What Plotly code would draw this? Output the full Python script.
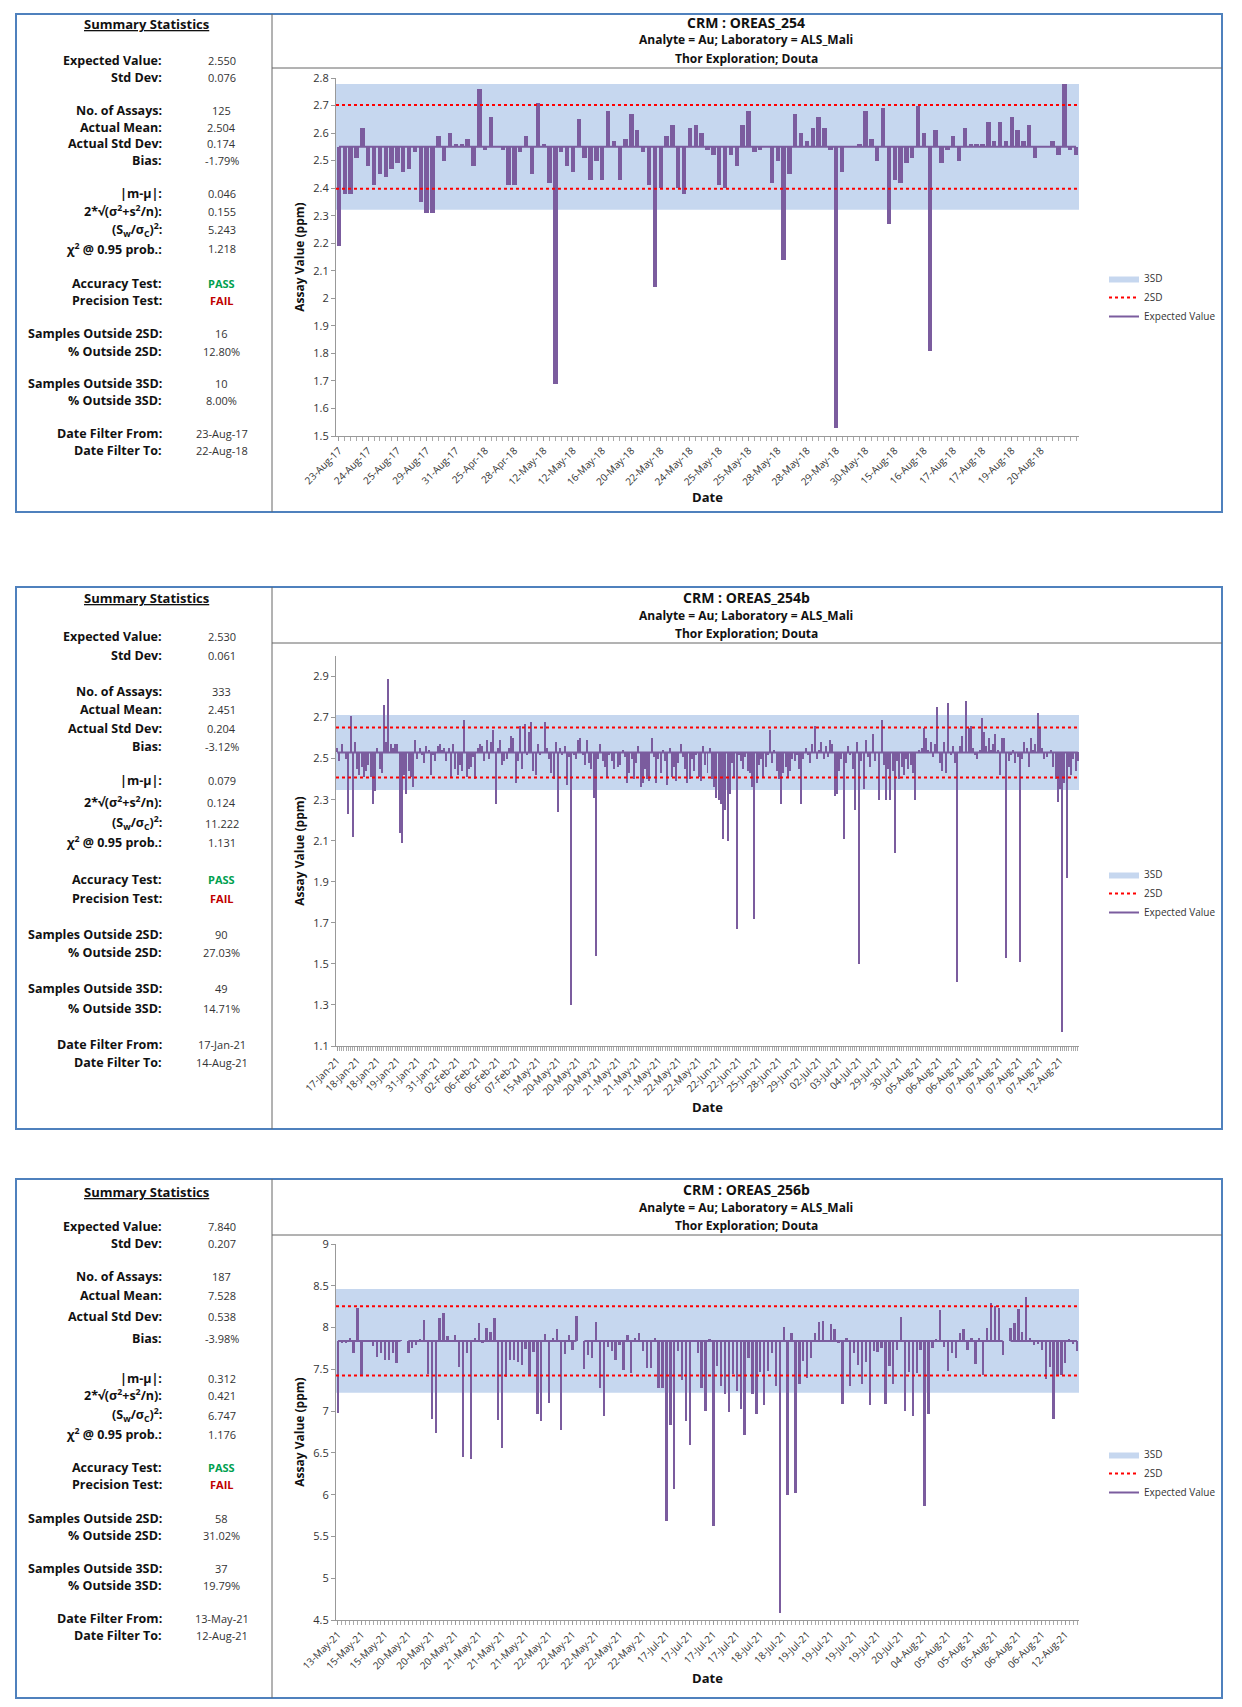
import plotly.graph_objects as go

W, H = 1242, 1707
OFF = 8  # page body margin
def X(px): return (px - OFF) / W
def Y(py): return 1 - (py - OFF) / H

# ---------------- data ----------------
p1_expected, p1_sd = 2.550, 0.076
p1_values = [2.19, 2.38, 2.38, 2.51, 2.62, 2.48, 2.41, 2.45, 2.44, 2.47, 2.49, 2.46, 2.47, 2.53, 2.35,
             2.31, 2.31, 2.59, 2.50, 2.60, 2.56, 2.56, 2.58, 2.48, 2.76, 2.54, 2.66, 2.55, 2.54, 2.41,
             2.41, 2.53, 2.59, 2.45, 2.71, 2.56, 2.42, 1.69, 2.53, 2.48, 2.46, 2.65, 2.51, 2.43, 2.50,
             2.43, 2.68, 2.57, 2.43, 2.58, 2.67, 2.61, 2.53, 2.41, 2.04, 2.40, 2.59, 2.63, 2.40, 2.38,
             2.62, 2.63, 2.60, 2.54, 2.52, 2.41, 2.40, 2.52, 2.48, 2.63, 2.68, 2.53, 2.54, 2.55, 2.42,
             2.50, 2.14, 2.45, 2.67, 2.60, 2.57, 2.62, 2.66, 2.62, 2.54, 1.53, 2.46, 2.55, 2.55, 2.56,
             2.68, 2.58, 2.50, 2.69, 2.27, 2.43, 2.42, 2.49, 2.51, 2.70, 2.60, 1.81, 2.61, 2.49, 2.54,
             2.59, 2.50, 2.62, 2.56, 2.56, 2.56, 2.64, 2.57, 2.64, 2.57, 2.66, 2.61, 2.57, 2.63, 2.51,
             2.55, 2.55, 2.57, 2.52, 2.78, 2.54, 2.52]
p1_labels = ["23-Aug-17", "24-Aug-17", "25-Aug-17", "29-Aug-17", "31-Aug-17", "25-Apr-18", "28-Apr-18",
             "12-May-18", "12-May-18", "16-May-18", "20-May-18", "22-May-18", "24-May-18", "25-May-18",
             "25-May-18", "28-May-18", "28-May-18", "29-May-18", "30-May-18", "15-Aug-18", "16-Aug-18",
             "17-Aug-18", "17-Aug-18", "19-Aug-18", "20-Aug-18"]

p2_expected, p2_sd = 2.530, 0.061
p2_values = [2.55, 2.49, 2.57, 2.53, 2.50, 2.23, 2.71, 2.12, 2.58, 2.45,
             2.42, 2.46, 2.41, 2.44, 2.47, 2.41, 2.28, 2.34, 2.55, 2.45,
             2.43, 2.76, 2.58, 2.89, 2.57, 2.55, 2.57, 2.57, 2.14, 2.09,
             2.42, 2.33, 2.44, 2.41, 2.36, 2.59, 2.50, 2.55, 2.52, 2.48,
             2.56, 2.54, 2.42, 2.52, 2.49, 2.56, 2.57, 2.54, 2.55, 2.49,
             2.55, 2.41, 2.57, 2.45, 2.42, 2.47, 2.44, 2.69, 2.41, 2.45,
             2.46, 2.51, 2.40, 2.55, 2.57, 2.56, 2.49, 2.59, 2.50, 2.58,
             2.64, 2.28, 2.55, 2.59, 2.47, 2.49, 2.50, 2.55, 2.61, 2.60,
             2.38, 2.49, 2.66, 2.45, 2.67, 2.52, 2.63, 2.68, 2.44, 2.42,
             2.57, 2.52, 2.53, 2.68, 2.55, 2.50, 2.43, 2.40, 2.58, 2.24,
             2.55, 2.52, 2.56, 2.37, 2.51, 1.30, 2.52, 2.50, 2.59, 2.60,
             2.52, 2.47, 2.59, 2.48, 2.45, 2.31, 1.54, 2.50, 2.57, 2.49,
             2.46, 2.41, 2.52, 2.49, 2.45, 2.53, 2.46, 2.47, 2.54, 2.51,
             2.38, 2.43, 2.50, 2.40, 2.48, 2.56, 2.36, 2.38, 2.45, 2.40,
             2.39, 2.60, 2.51, 2.38, 2.50, 2.43, 2.54, 2.49, 2.37, 2.55,
             2.41, 2.46, 2.39, 2.48, 2.57, 2.51, 2.45, 2.38, 2.40, 2.50,
             2.44, 2.52, 2.41, 2.39, 2.56, 2.47, 2.43, 2.55, 2.40, 2.36,
             2.31, 2.30, 2.28, 2.11, 2.25, 2.10, 2.33, 2.48, 2.41, 1.67,
             2.52, 2.49, 2.45, 2.51, 2.44, 2.43, 2.36, 1.72, 2.38, 2.47,
             2.50, 2.41, 2.46, 2.52, 2.64, 2.48, 2.54, 2.44, 2.40, 2.28,
             2.43, 2.46, 2.41, 2.44, 2.50, 2.49, 2.52, 2.45, 2.28, 2.50,
             2.55, 2.52, 2.48, 2.57, 2.66, 2.50, 2.54, 2.58, 2.50, 2.56,
             2.51, 2.59, 2.57, 2.32, 2.33, 2.44, 2.50, 2.11, 2.48, 2.56,
             2.52, 2.45, 2.25, 2.58, 1.50, 2.49, 2.35, 2.59, 2.51, 2.46,
             2.62, 2.49, 2.53, 2.30, 2.69, 2.47, 2.30, 2.45, 2.30, 2.44,
             2.04, 2.49, 2.40, 2.46, 2.42, 2.50, 2.45, 2.47, 2.43, 2.30,
             2.53, 2.54, 2.55, 2.65, 2.60, 2.54, 2.58, 2.51, 2.57, 2.75,
             2.48, 2.44, 2.58, 2.43, 2.77, 2.52, 2.56, 2.48, 1.41, 2.56,
             2.61, 2.53, 2.78, 2.65, 2.66, 2.55, 2.52, 2.50, 2.54, 2.70,
             2.63, 2.56, 2.60, 2.54, 2.57, 2.62, 2.54, 2.42, 2.60, 2.60,
             1.53, 2.49, 2.52, 2.54, 2.48, 2.51, 1.51, 2.50, 2.58, 2.55,
             2.46, 2.60, 2.54, 2.57, 2.72, 2.65, 2.55, 2.50, 2.51, 2.53,
             2.54, 2.46, 2.40, 2.29, 2.35, 1.17, 2.38, 1.92, 2.46, 2.42,
             2.50, 2.44, 2.49]
p2_labels = ["17-Jan-21", "18-Jan-21", "18-Jan-21", "19-Jan-21", "31-Jan-21", "31-Jan-21", "02-Feb-21",
             "06-Feb-21", "06-Feb-21", "07-Feb-21", "15-May-21", "20-May-21", "20-May-21", "20-May-21",
             "21-May-21", "21-May-21", "21-May-21", "22-May-21", "22-May-21", "22-Jun-21", "22-Jun-21",
             "25-Jun-21", "28-Jun-21", "29-Jun-21", "02-Jul-21", "03-Jul-21", "04-Jul-21", "29-Jul-21",
             "30-Jul-21", "05-Aug-21", "06-Aug-21", "06-Aug-21", "07-Aug-21", "07-Aug-21", "07-Aug-21",
             "07-Aug-21", "12-Aug-21"]

p3_expected, p3_sd = 7.840, 0.207
p3_values = [6.98, 7.82, 7.81, 7.87, 7.69, 8.23, 7.42, 7.84, 7.83, 7.78, 7.65, 7.69, 7.61, 7.61, 7.69,
             7.57, 7.85, None, 7.70, 7.76, 7.79, 7.86, 8.09, 7.45, 6.91, 6.74, 8.12, 8.18, 7.90, 7.84,
             7.91, 7.53, 6.45, 7.69, 6.43, 7.87, 8.06, 7.81, 7.99, 7.95, 8.11, 6.89, 6.56, 7.41, 7.61,
             7.61, 7.59, 7.55, 7.74, 7.43, 7.71, 6.97, 6.88, 7.92, 7.10, 7.87, 7.98, 6.77, 7.68, 7.91,
             7.73, 8.14, None, 7.51, 7.67, 7.63, 8.07, 7.28, 6.94, 7.77, 7.72, 7.61, 7.79, 7.49, 7.91,
             7.46, 7.88, 7.94, 7.72, 7.52, 7.52, 7.87, 7.28, 7.28, 5.68, 6.83, 6.07, 7.72, 7.37, 6.88,
             6.60, 7.84, 7.70, 7.28, 7.00, 7.86, 5.62, 7.54, 7.30, 7.20, 6.99, 7.44, 7.24, 7.03, 6.71,
             7.64, 7.21, 6.96, 7.47, 7.07, 7.48, 7.69, 7.30, 4.58, 8.01, 6.00, 7.94, 6.02, 7.32, 7.60,
             7.40, 7.63, 7.94, 8.07, 8.08, 7.84, 8.04, 7.98, 7.82, 7.09, 7.87, 7.30, 7.70, 7.55, 7.32,
             7.59, 7.07, 7.72, 7.71, 7.75, 7.09, 7.54, 7.33, 7.73, 8.13, 7.00, 7.47, 6.94, 7.46, 7.73,
             5.87, 6.96, 7.75, 7.86, 8.21, 7.77, 7.48, 7.70, 7.63, 7.93, 7.98, 7.73, 7.88, 7.56, 7.88,
             7.43, 7.99, 8.29, 8.26, 8.23, 7.67, None, 7.99, 8.06, 8.22, 7.95, 8.36, 7.87, 7.79, 7.80,
             7.73, 7.38, 7.53, 6.91, 7.43, 7.43, 7.58, 7.86, 7.80, 7.72]
p3_labels = ["13-May-21", "15-May-21", "15-May-21", "20-May-21", "20-May-21", "20-May-21", "21-May-21",
             "21-May-21", "21-May-21", "22-May-21", "22-May-21", "22-May-21", "22-May-21", "22-May-21",
             "17-Jul-21", "17-Jul-21", "17-Jul-21", "17-Jul-21", "18-Jul-21", "18-Jul-21", "19-Jul-21",
             "19-Jul-21", "19-Jul-21", "19-Jul-21", "20-Jul-21", "04-Aug-21", "05-Aug-21", "05-Aug-21",
             "05-Aug-21", "06-Aug-21", "06-Aug-21", "12-Aug-21"]

p1_stats = ["2.550", "0.076", "125", "2.504", "0.174", "-1.79%", "0.046", "0.155", "5.243", "1.218",
            "PASS", "FAIL", "16", "12.80%", "10", "8.00%", "23-Aug-17", "22-Aug-18"]
p2_stats = ["2.530", "0.061", "333", "2.451", "0.204", "-3.12%", "0.079", "0.124", "11.222", "1.131",
            "PASS", "FAIL", "90", "27.03%", "49", "14.71%", "17-Jan-21", "14-Aug-21"]
p3_stats = ["7.840", "0.207", "187", "7.528", "0.538", "-3.98%", "0.312", "0.421", "6.747", "1.176",
            "PASS", "FAIL", "58", "31.02%", "37", "19.79%", "13-May-21", "12-Aug-21"]
stat_names = ["Expected Value:", "Std Dev:", "No. of Assays:", "Actual Mean:", "Actual Std Dev:", "Bias:",
              "|m-µ|:", "2*√(σ<sup>2</sup>+s<sup>2</sup>/n):", "(S<sub>w</sub>/σ<sub>C</sub>)<sup>2</sup>:",
              "χ<sup>2</sup> @ 0.95 prob.:", "Accuracy Test:", "Precision Test:", "Samples Outside 2SD:",
              "% Outside 2SD:", "Samples Outside 3SD:", "% Outside 3SD:", "Date Filter From:", "Date Filter To:"]

FONT = "Open Sans"
PURPLE = "#7b5c9e"
BAND = "#c6d7ef"

panels = [
    dict(name="OREAS_254", exp=p1_expected, sd=p1_sd, vals=p1_values, labels=p1_labels, step=5,
         box=(16, 14, 1222, 512), title_line=68, plot=(336, 78, 1079, 436), yr=(1.5, 2.8), dtick=0.1,
         yfmt=None, bw=0.75, stats=p1_stats, stat_title=24,
         rows=[60, 77, 110, 127, 144, 160, 194, 211, 230, 249, 283, 300, 333, 351, 384, 400, 434, 450],
         legend_y=264),
    dict(name="OREAS_254b", exp=p2_expected, sd=p2_sd, vals=p2_values, labels=p2_labels, step=9,
         box=(16, 587, 1222, 1129), title_line=643, plot=(336, 656, 1079, 1046), yr=(1.1, 3.0), dtick=0.2,
         yfmt=".1f", bw=0.45, stats=p2_stats, stat_title=598,
         rows=[636, 655, 691, 709, 728, 746, 781, 802, 823, 842, 879, 898, 934, 952, 989, 1008, 1044, 1062],
         legend_y=860),
    dict(name="OREAS_256b", exp=p3_expected, sd=p3_sd, vals=p3_values, labels=p3_labels, step=6,
         box=(16, 1179, 1222, 1698), title_line=1235, plot=(336, 1244, 1079, 1620), yr=(4.5, 9.0), dtick=0.5,
         yfmt=None, bw=0.6, stats=p3_stats, stat_title=1192,
         rows=[1226, 1243, 1276, 1295, 1316, 1338, 1378, 1395, 1415, 1434, 1467, 1484, 1518, 1535, 1568, 1585, 1618, 1635],
         legend_y=1440),
]

fig = go.Figure()
shapes, annotations = [], []
layout = {}

for k, p in enumerate(panels):
    s = "" if k == 0 else str(k + 1)
    xa, ya = "x" + s, "y" + s
    n = len(p["vals"])
    idx = list(range(n))
    e, sd = p["exp"], p["sd"]
    lg = "legend" + s
    x0, x1 = -0.5, n - 0.5
    shapes.append(dict(type="rect", xref=xa, yref=ya, x0=x0, x1=x1, y0=e - 3 * sd, y1=e + 3 * sd,
                       fillcolor=BAND, line=dict(width=0), layer="below"))
    fig.add_trace(go.Scatter(x=[None], y=[None], mode="lines", fill="toself", fillcolor=BAND,
                             line=dict(width=0, color=BAND), name="3SD",
                             xaxis=xa, yaxis=ya, legend=lg, hoverinfo="skip"))
    fig.add_trace(go.Bar(x=idx, y=[(v - e) if v is not None else None for v in p["vals"]], base=e,
                         width=p["bw"], marker=dict(color=PURPLE, line=dict(width=0)),
                         showlegend=False, xaxis=xa, yaxis=ya))
    for j, yy in enumerate([e + 2 * sd, e - 2 * sd]):
        fig.add_trace(go.Scatter(x=[x0, x1], y=[yy, yy], mode="lines", name="2SD",
                                 line=dict(color="#ff0000", width=2, dash="dot"),
                                 showlegend=(j == 0), xaxis=xa, yaxis=ya, legend=lg))
    ev = [e if v is not None else None for v in p["vals"]]
    fig.add_trace(go.Scatter(x=idx, y=ev, mode="lines", name="Expected Value",
                             line=dict(color=PURPLE, width=2), connectgaps=False,
                             xaxis=xa, yaxis=ya, legend=lg))

    px0, py0, px1, py1 = p["plot"]
    tv = list(range(0, n, p["step"]))[:len(p["labels"])]
    layout["xaxis" + s] = dict(domain=[X(px0), X(px1)], anchor=ya, range=[x0, x1], automargin=False,
                               tickvals=tv, ticktext=p["labels"][:len(tv)], tickangle=-45,
                               tickfont=dict(size=10, family=FONT, color="#333"),
                               showgrid=False, zeroline=False, showline=True, linecolor="#999",
                               ticks="outside", ticklen=4, tickcolor="#999",
                               minor=dict(dtick=1, ticks="outside", ticklen=4, tickcolor="#aaa"),
                               title=dict(text="<b>Date</b>", font=dict(size=13, family=FONT, color="#111"),
                                          standoff=2))
    layout["yaxis" + s] = dict(domain=[Y(py1), Y(py0)], anchor=xa, range=list(p["yr"]), automargin=False,
                               tick0=p["yr"][0], dtick=p["dtick"], tickformat=p["yfmt"],
                               tickfont=dict(size=11, family=FONT, color="#333"),
                               showgrid=False, zeroline=False, showline=True, linecolor="#999",
                               ticks="outside", ticklen=4, tickcolor="#999",
                               title=dict(text="<b>Assay Value (ppm)</b>",
                                          font=dict(size=12, family=FONT, color="#111"), standoff=6))
    layout[lg] = dict(x=X(1104), y=Y(p["legend_y"]), xanchor="left", yanchor="top",
                      font=dict(size=10, family=FONT, color="#333"), bgcolor="rgba(0,0,0,0)",
                      itemwidth=30, tracegroupgap=0)

    bx0, by0, bx1, by1 = p["box"]
    shapes += [
        dict(type="rect", xref="paper", yref="paper", x0=X(bx0), x1=X(bx1), y0=Y(by1), y1=Y(by0),
             line=dict(color="#4f81bd", width=2), layer="below"),
        dict(type="line", xref="paper", yref="paper", x0=X(272), x1=X(272), y0=Y(by1), y1=Y(by0),
             line=dict(color="#666", width=1)),
        dict(type="line", xref="paper", yref="paper", x0=X(272), x1=X(bx1), y0=Y(p["title_line"]),
             y1=Y(p["title_line"]), line=dict(color="#666", width=1)),
    ]
    tl = p["title_line"]
    cx = X(746)
    for txt, dy, sz in [("<b>CRM : %s</b>" % p["name"], 46, 14),
                        ("<b>Analyte = Au; Laboratory = ALS_Mali</b>", 28, 12),
                        ("<b>Thor Exploration; Douta</b>", 10, 12)]:
        annotations.append(dict(text=txt, x=cx, y=Y(tl - dy), xref="paper", yref="paper", showarrow=False,
                                font=dict(size=sz, family=FONT, color="#111"), xanchor="center", yanchor="middle"))
    annotations.append(dict(text="<b><u>Summary Statistics</u></b>", x=X(146), y=Y(p["stat_title"]),
                            xref="paper", yref="paper", showarrow=False,
                            font=dict(size=13, family=FONT, color="#111"), xanchor="center", yanchor="middle"))
    for name, val, ry in zip(stat_names, p["stats"], p["rows"]):
        annotations.append(dict(text="<b>%s</b>" % name, x=X(164), y=Y(ry), xref="paper", yref="paper",
                                showarrow=False, font=dict(size=12.5, family=FONT, color="#111"),
                                xanchor="right", yanchor="middle"))
        col, txt = "#333", val
        if val == "PASS":
            col, txt = "#00a050", "<b>PASS</b>"
        elif val == "FAIL":
            col, txt = "#c00000", "<b>FAIL</b>"
        annotations.append(dict(text=txt, x=X(222), y=Y(ry), xref="paper", yref="paper", showarrow=False,
                                font=dict(size=11, family=FONT, color=col), xanchor="center", yanchor="middle"))

fig.update_layout(width=W, height=H, margin=dict(l=0, r=0, t=0, b=0, autoexpand=False), paper_bgcolor="white",
                  plot_bgcolor="white", shapes=shapes, annotations=annotations, bargap=0, **layout)
fig.write_html("out.html")
